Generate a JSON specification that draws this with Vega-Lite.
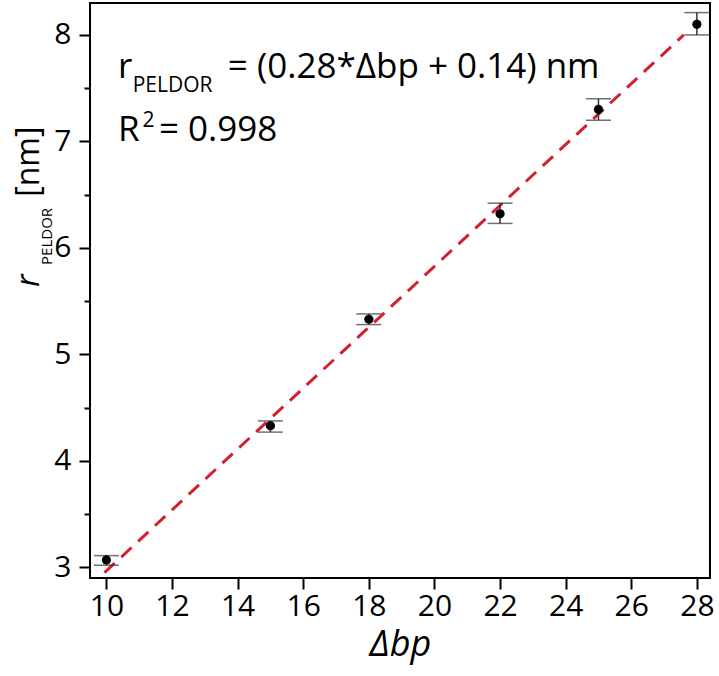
{
  "$schema": "https://vega.github.io/schema/vega-lite/v6.json",
  "width": 620,
  "height": 575,
  "autosize": {"type": "none"},
  "padding": {"left": 90, "top": 3, "right": 9, "bottom": 98},
  "background": "white",
  "config": {
    "view": {"stroke": "black", "strokeWidth": 2},
    "font": "Open Sans"
  },
  "datasets": {
    "points": [
      {"bp": 10, "r": 3.07, "lo": 3.02, "hi": 3.11},
      {"bp": 15, "r": 4.33, "lo": 4.27, "hi": 4.375},
      {"bp": 18, "r": 5.33, "lo": 5.28, "hi": 5.38},
      {"bp": 22, "r": 6.32, "lo": 6.23, "hi": 6.42},
      {"bp": 25, "r": 7.30, "lo": 7.20, "hi": 7.40},
      {"bp": 28, "r": 8.10, "lo": 8.00, "hi": 8.21}
    ],
    "fit": [
      {"bp": 9.94, "r": 2.95},
      {"bp": 27.6, "r": 8.0}
    ],
    "labels": [
      {"bp": 10.35, "r": 7.596, "text": "r", "size": 35},
      {"bp": 10.8, "r": 7.464, "text": "PELDOR", "size": 21},
      {"bp": 13.7, "r": 7.596, "text": "= (0.28*Δbp + 0.14) nm", "size": 35},
      {"bp": 10.35, "r": 7.004, "text": "R", "size": 35},
      {"bp": 11.1, "r": 7.14, "text": "2", "size": 21},
      {"bp": 11.6, "r": 7.004, "text": "= 0.998", "size": 35}
    ],
    "ytitle": [
      {"bp": 8.33, "r": 5.84, "text": "PELDOR", "size": 15},
      {"bp": 7.95, "r": 6.48, "text": "[nm]", "size": 32}
    ],
    "ytitleItalic": [
      {"bp": 7.95, "r": 5.633, "text": "r", "size": 32}
    ]
  },
  "layer": [
    {
      "data": {"name": "fit"},
      "mark": {"type": "line", "color": "#d2202e", "strokeWidth": 3, "strokeDash": [14, 9]},
      "encoding": {
        "x": {
          "field": "bp", "type": "quantitative",
          "scale": {"domain": [9.5, 28.4], "nice": false, "zero": false},
          "axis": {
            "values": [10, 11, 12, 13, 14, 15, 16, 17, 18, 19, 20, 21, 22, 23, 24, 25, 26, 27, 28],
            "labelExpr": "datum.value % 2 === 0 ? format(datum.value, 'd') : ''",
            "domain": false,
            "grid": false,
            "tickColor": "black",
            "tickWidth": 2,
            "tickSize": {"condition": {"test": "datum.value % 2 === 0", "value": 11}, "value": 6},
            "labelFontSize": 30,
            "labelColor": "black",
            "labelPadding": 2,
            "title": "Δbp",
            "titleFontSize": 36,
            "titleFontStyle": "italic",
            "titleFontWeight": "normal",
            "titleColor": "black",
            "titlePadding": 6
          }
        },
        "y": {
          "field": "r", "type": "quantitative",
          "scale": {"domain": [2.9, 8.3], "nice": false, "zero": false},
          "axis": {
            "values": [3, 3.5, 4, 4.5, 5, 5.5, 6, 6.5, 7, 7.5, 8],
            "labelExpr": "datum.value % 1 === 0 ? format(datum.value, 'd') : ''",
            "domain": false,
            "grid": false,
            "tickColor": "black",
            "tickWidth": 2,
            "tickSize": {"condition": {"test": "datum.value % 1 === 0", "value": 11}, "value": 6},
            "labelFontSize": 30,
            "labelColor": "black",
            "labelPadding": 8,
            "title": null
          }
        }
      }
    },
    {
      "data": {"name": "points"},
      "mark": {"type": "rule", "color": "#333333", "strokeWidth": 1.5},
      "encoding": {
        "x": {"field": "bp", "type": "quantitative"},
        "y": {"field": "lo", "type": "quantitative"},
        "y2": {"field": "hi"}
      }
    },
    {
      "data": {"name": "points"},
      "mark": {"type": "tick", "orient": "horizontal", "color": "#333333", "size": 25, "thickness": 1.5},
      "encoding": {
        "x": {"field": "bp", "type": "quantitative"},
        "y": {"field": "lo", "type": "quantitative"}
      }
    },
    {
      "data": {"name": "points"},
      "mark": {"type": "tick", "orient": "horizontal", "color": "#333333", "size": 25, "thickness": 1.5},
      "encoding": {
        "x": {"field": "bp", "type": "quantitative"},
        "y": {"field": "hi", "type": "quantitative"}
      }
    },
    {
      "data": {"name": "points"},
      "mark": {"type": "circle", "color": "black", "opacity": 1, "size": 85},
      "encoding": {
        "x": {"field": "bp", "type": "quantitative"},
        "y": {"field": "r", "type": "quantitative"}
      }
    },
    {
      "data": {"name": "labels"},
      "mark": {"type": "text", "align": "left", "baseline": "alphabetic", "color": "black"},
      "encoding": {
        "x": {"field": "bp", "type": "quantitative"},
        "y": {"field": "r", "type": "quantitative"},
        "text": {"field": "text"},
        "size": {"field": "size", "type": "quantitative", "scale": null}
      }
    },
    {
      "data": {"name": "ytitle"},
      "mark": {"type": "text", "align": "left", "baseline": "alphabetic", "angle": 270, "color": "black"},
      "encoding": {
        "x": {"field": "bp", "type": "quantitative"},
        "y": {"field": "r", "type": "quantitative"},
        "text": {"field": "text"},
        "size": {"field": "size", "type": "quantitative", "scale": null}
      }
    },
    {
      "data": {"name": "ytitleItalic"},
      "mark": {"type": "text", "align": "left", "baseline": "alphabetic", "angle": 270, "color": "black", "fontStyle": "italic"},
      "encoding": {
        "x": {"field": "bp", "type": "quantitative"},
        "y": {"field": "r", "type": "quantitative"},
        "text": {"field": "text"},
        "size": {"field": "size", "type": "quantitative", "scale": null}
      }
    }
  ]
}
